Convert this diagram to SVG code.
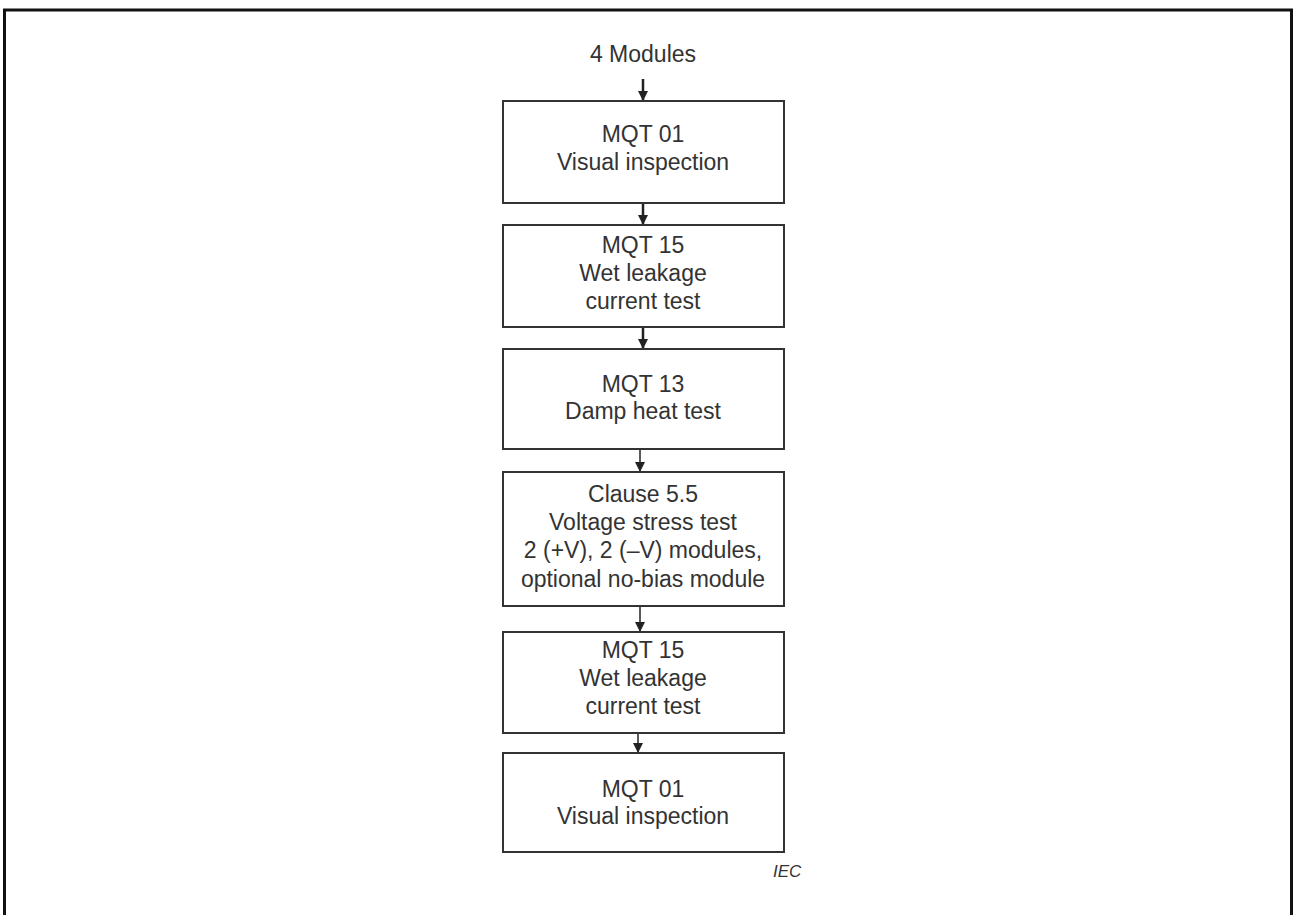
<svg xmlns="http://www.w3.org/2000/svg" width="1295" height="915" viewBox="0 0 1295 915">
<defs>
<style>
.frame{stroke:#111;stroke-width:3;fill:none}
.box{fill:#fff;stroke:#333;stroke-width:2}
.t{font-family:"Liberation Sans",Arial,sans-serif;font-size:23px;fill:#333;text-anchor:middle}
.c{stroke:#222;fill:none}
.iec{font-family:"Liberation Sans",Arial,sans-serif;font-size:17px;font-style:italic;fill:#333}
</style>
<marker id="ah" viewBox="0 0 10 10" refX="10" refY="5" markerWidth="10" markerHeight="10" markerUnits="userSpaceOnUse" orient="auto">
<path d="M0,0 L10,5 L0,10 z" fill="#222"/>
</marker>
</defs>
<rect width="1295" height="915" fill="#fff"/>
<path class="frame" d="M4.5,915 V10 H1291.5 V915"/>
<g id="connectors">
<line class="c" stroke-width="2.5" x1="643" y1="79" x2="643" y2="101" marker-end="url(#ah)"/>
<line class="c" stroke-width="2.5" x1="643" y1="203" x2="643" y2="225" marker-end="url(#ah)"/>
<line class="c" stroke-width="2.5" x1="643" y1="327" x2="643" y2="349" marker-end="url(#ah)"/>
<line class="c" stroke-width="1.5" x1="640" y1="449" x2="640" y2="472" marker-end="url(#ah)"/>
<line class="c" stroke-width="1.5" x1="640" y1="606" x2="640" y2="632" marker-end="url(#ah)"/>
<line class="c" stroke-width="1.5" x1="638" y1="733" x2="638" y2="753" marker-end="url(#ah)"/>
</g>
<g id="start">
<text class="t" x="643" y="62">4 Modules</text>
</g>
<g id="n1">
<rect class="box" x="503" y="101" width="281" height="102"/>
<text class="t" x="643" y="142">MQT 01</text>
<text class="t" x="643" y="170">Visual inspection</text>
</g>
<g id="n2">
<rect class="box" x="503" y="225" width="281" height="102"/>
<text class="t" x="643" y="253">MQT 15</text>
<text class="t" x="643" y="281">Wet leakage</text>
<text class="t" x="643" y="309">current test</text>
</g>
<g id="n3">
<rect class="box" x="503" y="349" width="281" height="100"/>
<text class="t" x="643" y="392">MQT 13</text>
<text class="t" x="643" y="419">Damp heat test</text>
</g>
<g id="n4">
<rect class="box" x="503" y="472" width="281" height="134"/>
<text class="t" x="643" y="502">Clause 5.5</text>
<text class="t" x="643" y="530">Voltage stress test</text>
<text class="t" x="643" y="558">2 (+V), 2 (–V) modules,</text>
<text class="t" x="643" y="587">optional no-bias module</text>
</g>
<g id="n5">
<rect class="box" x="503" y="632" width="281" height="101"/>
<text class="t" x="643" y="658">MQT 15</text>
<text class="t" x="643" y="686">Wet leakage</text>
<text class="t" x="643" y="714">current test</text>
</g>
<g id="n6">
<rect class="box" x="503" y="753" width="281" height="99"/>
<text class="t" x="643" y="797">MQT 01</text>
<text class="t" x="643" y="824">Visual inspection</text>
</g>
<g id="label-iec">
<text class="iec" x="773" y="877">IEC</text>
</g>
</svg>
